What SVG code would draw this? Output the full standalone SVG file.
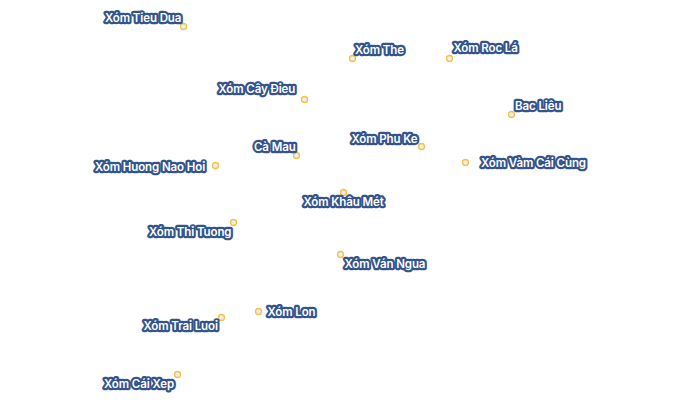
<svg xmlns="http://www.w3.org/2000/svg" width="700" height="410" viewBox="0 0 700 410">
<style>
.d{fill:#ececf2;stroke:#f6c244;stroke-width:1.3}
text{font-family:Inter,Roboto,"Liberation Sans",sans-serif;font-size:11.5px;font-weight:600;letter-spacing:-.1px;fill:#fff;stroke:#34548c;stroke-width:4.4px;paint-order:stroke fill;stroke-linejoin:round}
</style>
<rect width="700" height="410" fill="#fff"/>
<g id="n1"><circle class="d" cx="183.500" cy="26.500" r="3"/><text x="105" y="21.500">Xóm Tieu Dua</text></g>
<g id="n2"><circle class="d" cx="352.500" cy="58.500" r="3"/><text x="355" y="53.500">Xóm The</text></g>
<g id="n3"><circle class="d" cx="449.500" cy="58.500" r="3"/><text x="453.500" y="51.500">Xóm Roc Lá</text></g>
<g id="n4"><circle class="d" cx="304.500" cy="99.500" r="3"/><text x="218.500" y="92.500">Xóm Cây Đieu</text></g>
<g id="n5"><circle class="d" cx="511.500" cy="114.500" r="3"/><text x="515" y="109.500">Bac Liêu</text></g>
<g id="n6"><circle class="d" cx="421.500" cy="146.500" r="3"/><text x="351.500" y="142.500">Xóm Phu Ke</text></g>
<g id="n7"><circle class="d" cx="296.500" cy="155.500" r="3"/><text x="254" y="151">Cà Mau</text></g>
<g id="n8"><circle class="d" cx="465.500" cy="162.500" r="3"/><text x="481" y="167">Xóm Vàm Cái Cùng</text></g>
<g id="n9"><circle class="d" cx="215.500" cy="165.500" r="3"/><text x="95" y="170.500">Xóm Huong Nao Hoi</text></g>
<g id="n10"><circle class="d" cx="343.500" cy="192.500" r="3"/><text x="303.500" y="205.500">Xóm Khâu Mét</text></g>
<g id="n11"><circle class="d" cx="233.500" cy="222.500" r="3"/><text x="149" y="236">Xóm Thi Tuong</text></g>
<g id="n12"><circle class="d" cx="340.500" cy="254.500" r="3"/><text x="344.500" y="267.500">Xóm Ván Ngua</text></g>
<g id="n13"><circle class="d" cx="258.500" cy="311.500" r="3"/><text x="267.500" y="315.500">Xóm Lon</text></g>
<g id="n14"><circle class="d" cx="221.500" cy="317.500" r="3"/><text x="143.500" y="329.500">Xóm Trai Luoi</text></g>
<g id="n15"><circle class="d" cx="177.500" cy="374.500" r="3"/><text x="104" y="387.500">Xóm Cái Xep</text></g>
</svg>
